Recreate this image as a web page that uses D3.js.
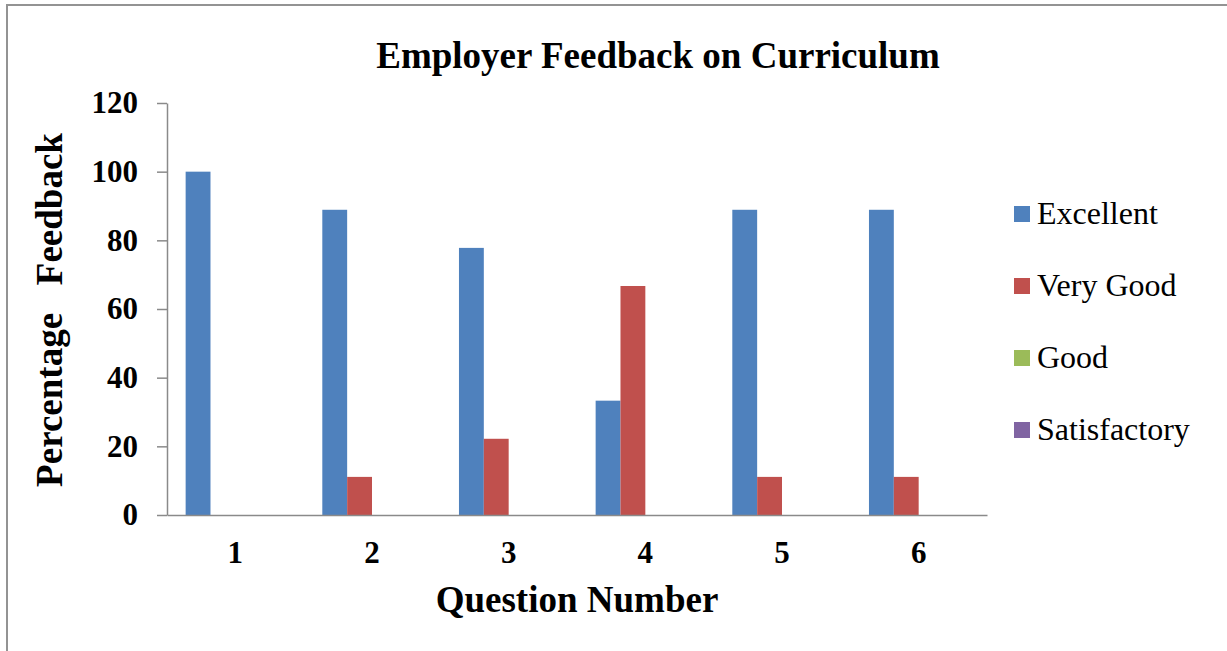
<!DOCTYPE html>
<html>
<head>
<meta charset="utf-8">
<script src="https://cdn.jsdelivr.net/npm/d3@7"></script>
<style>
  body { margin: 0; background: #fff; }
  text { font-family: "Liberation Serif", "Times New Roman", serif; }
</style>
</head>
<body>
<div id="chart"></div>
<script>
const questions = ["1", "2", "3", "4", "5", "6"];
const seriesNames = ["Excellent", "Very Good", "Good", "Satisfactory"];
const excellent = [100, 88.9, 77.8, 33.3, 88.9, 88.9];
const veryGood = [0, 11.1, 22.2, 66.7, 11.1, 11.1];
const good = [0, 0, 0, 0, 0, 0];
const satisfactory = [0, 0, 0, 0, 0, 0];
const yTicks = [0, 20, 40, 60, 80, 100, 120];
const colors = ["#4F81BD", "#C0504D", "#9BBB59", "#8064A2"];

function drawChart() {
    const W = 1227, H = 651;
    const margin = {top: 103, left: 167};
    const width = 987 - 167, height = 515 - 103;

    const root = d3.select("#chart").append("svg")
        .attr("width", W)
        .attr("height", H);

    // outer frame (only top/left visible in the picture)
    root.append("rect")
        .attr("x", 7).attr("y", 5)
        .attr("width", W + 20).attr("height", H + 20)
        .attr("fill", "none")
        .attr("stroke", "#939393")
        .attr("stroke-width", 2);

    root.append("text")
        .attr("x", 658)
        .attr("y", 68)
        .attr("text-anchor", "middle")
        .style("font-size", "37px")
        .style("font-weight", "bold")
        .text("Employer Feedback on Curriculum");

    const svg = root.append("g")
        .attr("transform", `translate(${margin.left},${margin.top})`);

    const allSeries = [excellent, veryGood, good, satisfactory];
    const rows = questions.map((q, i) => ({
        q: q,
        vals: seriesNames.map((s, j) => ({key: s, value: allSeries[j][i], idx: j}))
    }));

    const x0 = d3.scaleBand().domain(questions).range([0, width]).padding(0);
    const x1 = d3.scaleBand().domain(seriesNames)
        .range([0, x0.bandwidth()])
        .paddingInner(0)
        .paddingOuter(0.75);
    const y = d3.scaleLinear().domain([0, 120]).range([height, 0]);

    const groups = svg.selectAll(".grp")
        .data(rows)
        .enter().append("g")
        .attr("class", "grp")
        .attr("transform", d => `translate(${x0(d.q)},0)`);

    groups.selectAll("rect")
        .data(d => d.vals)
        .enter().append("rect")
        .attr("x", d => x1(d.key))
        .attr("y", d => y(d.value))
        .attr("width", x1.bandwidth())
        .attr("height", d => height - y(d.value))
        .attr("fill", d => colors[d.idx]);

    const yAxis = svg.append("g")
        .call(d3.axisLeft(y).tickValues(yTicks).tickSize(10).tickSizeOuter(0).tickPadding(19));
    yAxis.selectAll("text")
        .style("font-size", "31px")
        .style("font-weight", "bold")
        .attr("fill", "#000");

    const xAxis = svg.append("g")
        .attr("transform", `translate(0,${height})`)
        .call(d3.axisBottom(x0).tickSize(0).tickPadding(26));
    xAxis.selectAll("text")
        .style("font-size", "31px")
        .style("font-weight", "bold")
        .attr("fill", "#000");

    root.selectAll(".domain, .tick line")
        .attr("stroke", "#8a8a8a")
        .attr("stroke-width", 1.5);

    root.append("text")
        .attr("x", margin.left + width / 2)
        .attr("y", 612)
        .attr("text-anchor", "middle")
        .style("font-size", "37px")
        .style("font-weight", "bold")
        .text("Question Number");

    root.append("text")
        .attr("transform", "translate(62,310) rotate(-90)")
        .attr("text-anchor", "middle")
        .style("font-size", "37px")
        .style("font-weight", "bold")
        .style("white-space", "pre")
        .text("Percentage   Feedback");

    const legend = root.selectAll(".legend")
        .data(seriesNames)
        .enter().append("g")
        .attr("class", "legend")
        .attr("transform", (d, i) => `translate(1014,${214 + i * 72})`);

    legend.append("rect")
        .attr("x", 0).attr("y", -8)
        .attr("width", 16).attr("height", 16)
        .attr("fill", (d, i) => colors[i]);

    legend.append("text")
        .attr("x", 23)
        .attr("y", 10)
        .style("font-size", "32px")
        .text(d => d);
}

drawChart();
</script>
</body>
</html>
